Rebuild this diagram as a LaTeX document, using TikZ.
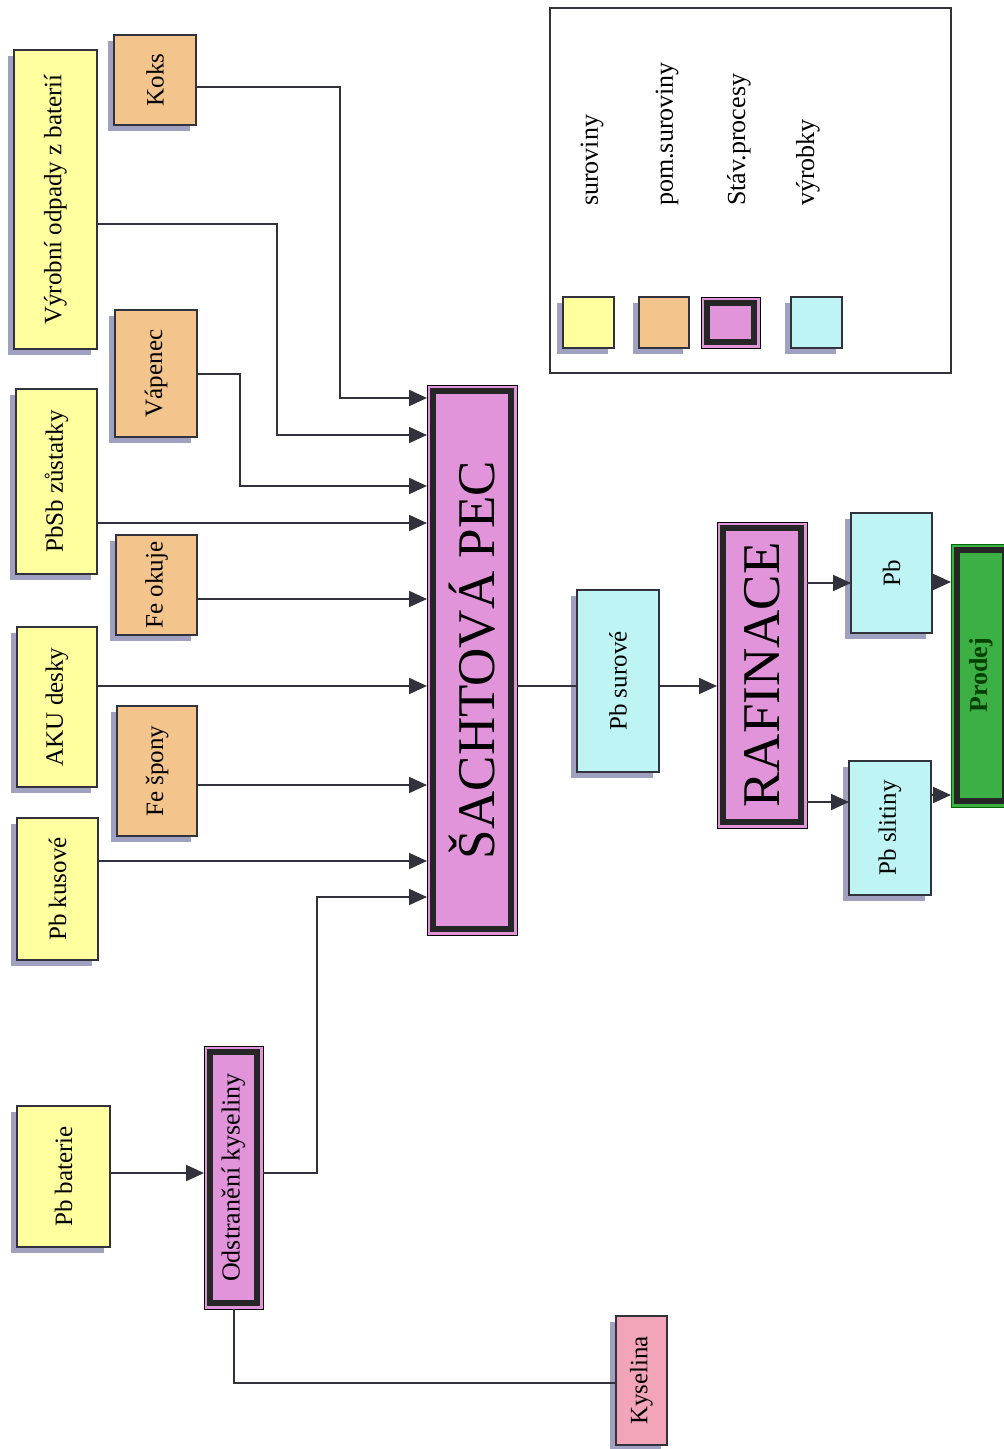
\documentclass[tikz,border=0pt]{standalone}
\usepackage{fontspec}
\setmainfont{Liberation Serif}
\usetikzlibrary{arrows.meta,shadows}

\definecolor{rawc}{RGB}{255,255,160}
\definecolor{auxc}{RGB}{243,196,140}
\definecolor{procc}{RGB}{226,148,218}
\definecolor{prodc}{RGB}{190,244,244}
\definecolor{salec}{RGB}{60,176,68}
\definecolor{acidc}{RGB}{242,164,184}
\definecolor{shadowc}{RGB}{160,160,192}
\definecolor{linec}{RGB}{50,50,60}

\begin{document}
\begin{tikzpicture}[
        x=1pt, y=-1pt,
        base/.style={
            draw=linec,
            line width=1.8pt,
            inner sep=0pt,
            outer sep=0pt,
            font=\fontsize{25}{30}\selectfont
        },
        shade/.style={drop shadow={shadow xshift=-6pt, shadow yshift=-6pt, fill=shadowc, opacity=1}},
        raw/.style={base, shade, fill=rawc},
        aux/.style={base, shade, fill=auxc},
        prod/.style={base, shade, fill=prodc},
        acid/.style={base, shade, fill=acidc},
        band/.style={
            path picture={\draw[line width=6pt, black!85]
                ([shift={(6pt,-6pt)}]path picture bounding box.north west) rectangle
                ([shift={(-6pt,6pt)}]path picture bounding box.south east);}
        },
        proc/.style={base, draw=black, line width=1pt, fill=procc, band},
        sale/.style={base, draw=black!60!green, line width=1pt, fill=salec, band,
            font=\fontsize{26}{30}\selectfont\bfseries, text=black!75!green},
        legtext/.style={anchor=south, inner sep=0pt, font=\fontsize{26}{30}\selectfont},
        ln/.style={draw=linec, line width=2pt},
        arr/.style={ln, -{Triangle[length=18pt,width=16pt]}}
    ]
        \useasboundingbox (0,0) rectangle (1004,1449);

        % Raw materials
        \node[raw, minimum width=83pt, minimum height=299pt] (vyrob) at (55.5,199.5) {\rotatebox{90}{Výrobní odpady z baterií}};
        \node[raw, minimum width=81pt, minimum height=185pt] (pbsb) at (56.5,481.5) {\rotatebox{90}{PbSb zůstatky}};
        \node[raw, minimum width=80pt, minimum height=160pt] (aku) at (57,707) {\rotatebox{90}{AKU desky}};
        \node[raw, minimum width=81pt, minimum height=142pt] (pbkus) at (57.5,889) {\rotatebox{90}{Pb kusové}};
        \node[raw, minimum width=93pt, minimum height=141pt] (pbbat) at (63.5,1176.5) {\rotatebox{90}{Pb baterie}};

        % Auxiliary materials
        \node[aux, minimum width=82pt, minimum height=90pt] (koks) at (155,80) {\rotatebox{90}{Koks}};
        \node[aux, minimum width=82pt, minimum height=127pt] (vap) at (156,373.5) {\rotatebox{90}{Vápenec}};
        \node[aux, minimum width=81pt, minimum height=100pt] (feok) at (156.5,585) {\rotatebox{90}{Fe okuje}};
        \node[aux, minimum width=80pt, minimum height=130pt] (fesp) at (157,771) {\rotatebox{90}{Fe špony}};

        % Processes
        \node[proc, minimum width=59pt, minimum height=263pt, font=\fontsize{26}{30}\selectfont] (odst) at (233.5,1177.5) {\rotatebox{90}{Odstranění kyseliny}};
        \node[proc, minimum width=90pt, minimum height=550pt, font=\fontsize{53}{60}\selectfont] (sachta) at (472,660) {\rotatebox{90}{ŠACHTOVÁ PEC}};
        \node[proc, minimum width=90pt, minimum height=306pt, font=\fontsize{53}{60}\selectfont] (raf) at (762,675) {\rotatebox{90}{RAFINACE}};

        % Products
        \node[acid, minimum width=51pt, minimum height=129pt] (kys) at (641.5,1380.5) {\rotatebox{90}{Kyselina}};
        \node[prod, minimum width=82pt, minimum height=182pt] (pbsur) at (618,681) {\rotatebox{90}{Pb surové}};
        \node[prod, minimum width=81pt, minimum height=120pt] (pb) at (891.5,573) {\rotatebox{90}{Pb}};
        \node[prod, minimum width=82pt, minimum height=134pt] (pbsl) at (890,828) {\rotatebox{90}{Pb slitiny}};
        \node[sale, minimum width=60pt, minimum height=263pt] (prodej) at (981,675.5) {\rotatebox{90}{Prodej}};

        % Inputs to the furnace
        \draw[arr] (koks.east |- 0,87) -| (340,398) -- (sachta.west |- 0,398);
        \draw[arr] (vyrob.east |- 0,224) -| (277,435) -- (sachta.west |- 0,435);
        \draw[arr] (vap.east |- 0,374) -| (240,486) -- (sachta.west |- 0,486);
        \draw[arr] (pbsb.east |- 0,523) -- (sachta.west |- 0,523);
        \draw[arr] (feok.east |- 0,599) -- (sachta.west |- 0,599);
        \draw[arr] (aku.east |- 0,686) -- (sachta.west |- 0,686);
        \draw[arr] (fesp.east |- 0,785) -- (sachta.west |- 0,785);
        \draw[arr] (pbkus.east |- 0,861) -- (sachta.west |- 0,861);
        \draw[arr] (odst.east |- 0,1173) -| (317,897) -- (sachta.west |- 0,897);

        % Batteries and acid
        \draw[arr] (pbbat.east |- 0,1173) -- (odst.west |- 0,1173);
        \draw[ln] (odst.south) |- (kys.west |- 0,1383);

        % Outputs
        \draw[ln] (sachta.east |- 0,686) -- (pbsur.west |- 0,686);
        \draw[arr] (pbsur.east |- 0,686) -- (raf.west |- 0,686);
        \draw[arr] (raf.east |- 0,583) -- (pb.west |- 0,583);
        \draw[arr] (raf.east |- 0,802) -- (pbsl.west |- 0,802);
        \draw[arr] (pb.east |- 0,582) -- (prodej.west |- 0,582);
        \draw[arr] (pbsl.east |- 0,795) -- (prodej.west |- 0,795);

        % Legend
        \node[draw=linec, line width=1.8pt, minimum width=401pt, minimum height=365pt, inner sep=0pt] (legend) at (750.5,190.5) {};
        \node[raw, minimum width=51pt, minimum height=51pt] (lraw) at (588.5,322.5) {};
        \node[aux, minimum width=50pt, minimum height=51pt] (laux) at (664,322.5) {};
        \node[proc, minimum width=59pt, minimum height=51pt] (lproc) at (730.5,322.5) {};
        \node[prod, minimum width=51pt, minimum height=51pt] (lprod) at (816.5,322.5) {};
        \node[legtext] (traw) at (592,206) {\rotatebox{90}{suroviny}};
        \node[legtext] (taux) at (667,206) {\rotatebox{90}{pom.suroviny}};
        \node[legtext] (tproc) at (739,206) {\rotatebox{90}{Stáv.procesy}};
        \node[legtext] (tprod) at (808,206) {\rotatebox{90}{výrobky}};

    \end{tikzpicture}
\end{document}
